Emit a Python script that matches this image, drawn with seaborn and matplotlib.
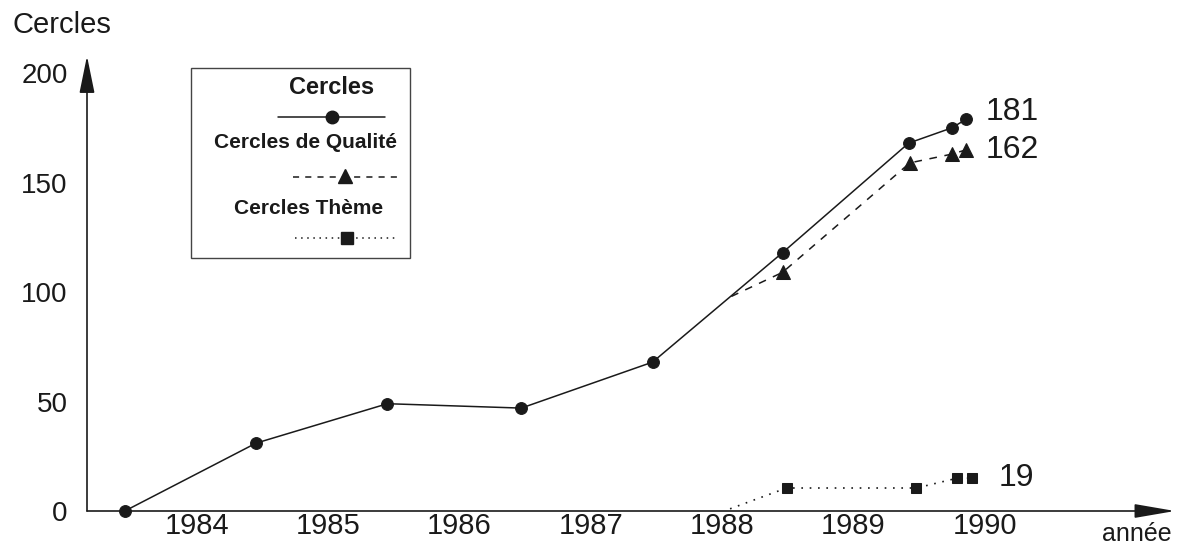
import matplotlib
matplotlib.use("Agg")
import matplotlib.pyplot as plt
from matplotlib import font_manager
from matplotlib.lines import Line2D
from matplotlib.patches import Rectangle
import seaborn as sns
import pandas as pd

# ---------------- data ----------------
years_cercles = [1983.45, 1984.45, 1985.45, 1986.47, 1987.47, 1988.46, 1989.42, 1989.75, 1989.86]
cercles = [0, 31, 49, 47, 68, 118, 168, 175, 179]

years_qualite = [1988.07, 1988.46, 1989.43, 1989.75, 1989.86]
qualite = [98, 109, 159, 163, 165]

years_theme = [1988.06, 1988.49, 1989.48, 1989.79, 1989.90]
theme = [1, 10.5, 10.5, 15, 15]

year_ticks = [1984, 1985, 1986, 1987, 1988, 1989, 1990]
year_labels = ["1984", "1985", "1986", "1987", "1988", "1989", "1990"]
y_ticks = [0, 50, 100, 150, 200]

end_labels = ["181", "162", "19"]
legend_names = ["Cercles", "Cercles de Qualité", "Cercles Thème"]

# ---------------- style ----------------
sns.set_theme(style="white")
plt.rcParams["font.family"] = ["Liberation Sans", "DejaVu Sans"]

names = {f.name for f in font_manager.fontManager.ttflist}
if "Liberation Sans Narrow" in names:
    narrow_family = ["Liberation Sans Narrow", "Liberation Sans", "DejaVu Sans"]
    year_size = 24
else:
    narrow_family = ["Liberation Sans", "DejaVu Sans"]
    year_size = 21

INK = "#1a1a1a"
W, H = 1197, 546
fig = plt.figure(figsize=(W / 100, H / 100), dpi=100)
fig.patch.set_facecolor("white")


def fx(px):
    return px / W


def fy(py):
    return 1 - py / H


ax = fig.add_axes([fx(87), fy(511), (1175 - 87) / W, (511 - 56) / H])
ax.set_facecolor("white")

df_c = pd.DataFrame({"annee": years_cercles, "n": cercles})
df_q = pd.DataFrame({"annee": years_qualite, "n": qualite})
df_t = pd.DataFrame({"annee": years_theme, "n": theme})

sns.lineplot(data=df_c, x="annee", y="n", ax=ax, color=INK, linewidth=1.1,
             marker="o", markersize=8.5, markeredgecolor=INK, markerfacecolor=INK,
             clip_on=False)
sns.lineplot(data=df_q, x="annee", y="n", ax=ax, color=INK, linewidth=1.1,
             linestyle=(0, (5, 5)), marker="^", markersize=9.5, markeredgecolor=INK,
             markerfacecolor=INK, markevery=slice(1, None), clip_on=False)
sns.lineplot(data=df_t, x="annee", y="n", ax=ax, color=INK, linewidth=1.2,
             linestyle=(0, (1, 4)), marker="s", markersize=7, markeredgecolor=INK,
             markerfacecolor=INK, markevery=slice(1, None), clip_on=False)

ax.set_xlim(1983.162, 1991.449)
ax.set_ylim(0, 207.8)
for s in ax.spines.values():
    s.set_visible(False)
ax.grid(False)

ax.set_xticks(year_ticks)
ax.set_xticklabels(year_labels, family=narrow_family, fontsize=year_size, color=INK)
ax.set_yticks(y_ticks)
ax.set_yticklabels([str(v) for v in y_ticks], fontsize=20, color=INK)
ax.tick_params(axis="x", length=0, pad=1)
ax.tick_params(axis="y", length=0, pad=14)
ax.set_xlabel("")
ax.set_ylabel("")

# axis arrows
ax.annotate("", xy=(0, 1), xytext=(0, 0), xycoords="axes fraction",
            arrowprops=dict(arrowstyle="-|>,head_length=23,head_width=4.7",
                            mutation_scale=1, lw=1.2, color=INK,
                            shrinkA=0, shrinkB=0))
ax.annotate("", xy=(1, 0), xytext=(0, 0), xycoords="axes fraction",
            arrowprops=dict(arrowstyle="-|>,head_length=25,head_width=4.3",
                            mutation_scale=1, lw=1.2, color=INK,
                            shrinkA=0, shrinkB=0))

# axis titles
fig.text(fx(12), fy(25), "Cercles", fontsize=21, color=INK, ha="left", va="center")
fig.text(fx(1137), fy(541), "année", fontsize=18, color=INK, ha="center", va="baseline")

# end labels
fig.text(fx(986), fy(112), end_labels[0], fontsize=23, color=INK, ha="left", va="center")
fig.text(fx(986), fy(150), end_labels[1], fontsize=23, color=INK, ha="left", va="center")
fig.text(fx(999), fy(478), end_labels[2], fontsize=23, color=INK, ha="left", va="center")

# legend box (drawn by hand to mimic the original layout)
fig.patches.append(Rectangle((fx(191), fy(258)), (410 - 191) / W, (258 - 68) / H,
                             transform=fig.transFigure, fill=False,
                             edgecolor="#444444", lw=1.0))
fig.text(fx(332), fy(88), legend_names[0], fontsize=17, fontweight="bold",
         color=INK, ha="center", va="center")
fig.text(fx(305), fy(143), legend_names[1], fontsize=15, fontweight="bold",
         color=INK, ha="center", va="center")
fig.text(fx(309), fy(208), legend_names[2], fontsize=15, fontweight="bold",
         color=INK, ha="center", va="center")

fig.lines.append(Line2D([fx(278), fx(385)], [fy(117), fy(117)], transform=fig.transFigure,
                        color=INK, lw=1.1))
fig.lines.append(Line2D([fx(332)], [fy(117)], transform=fig.transFigure,
                        color=INK, marker="o", markersize=9, linestyle="none"))
fig.lines.append(Line2D([fx(293), fx(400)], [fy(177), fy(177)], transform=fig.transFigure,
                        color=INK, lw=1.1, linestyle=(0, (4, 4))))
fig.lines.append(Line2D([fx(345)], [fy(176)], transform=fig.transFigure,
                        color=INK, marker="^", markersize=10, linestyle="none"))
fig.lines.append(Line2D([fx(295), fx(398)], [fy(238), fy(238)], transform=fig.transFigure,
                        color=INK, lw=1.1, linestyle=(0, (1, 3))))
fig.lines.append(Line2D([fx(347)], [fy(238)], transform=fig.transFigure,
                        color=INK, marker="s", markersize=8, linestyle="none"))

fig.savefig("out.png", dpi=100, facecolor="white")
